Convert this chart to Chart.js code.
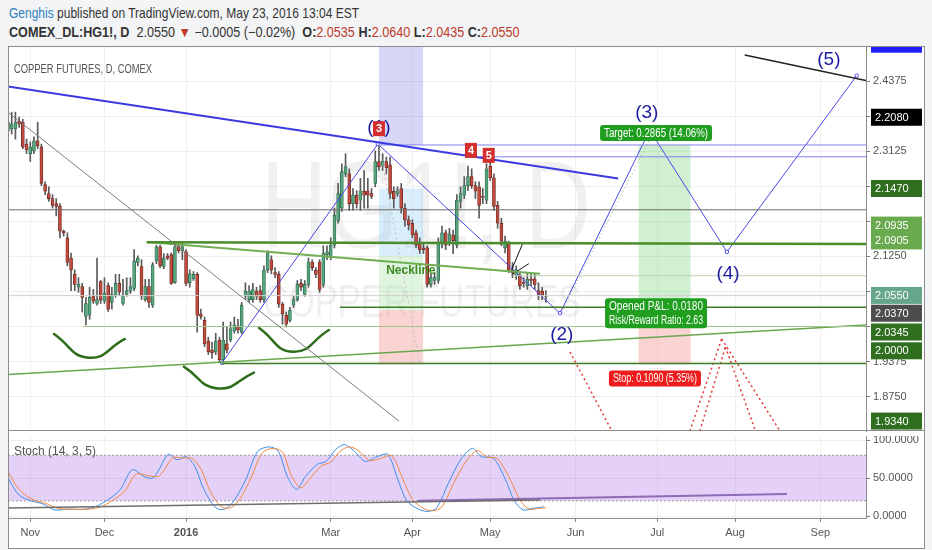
<!DOCTYPE html>
<html><head><meta charset="utf-8">
<script src="https://cdn.jsdelivr.net/npm/chart.js@4.4.0/dist/chart.umd.min.js"></script>
<style>
html,body{margin:0;padding:0;background:#f3f4f5;width:932px;height:550px;overflow:hidden;}
.hd{position:absolute;left:9px;white-space:nowrap;color:#333;font-family:"Liberation Sans",Arial,sans-serif;transform-origin:0 0;}
#h1{top:4px;font-size:15px;transform:scaleX(0.80);}
#h2{top:24px;font-size:14px;transform:scaleX(0.90);}
.r{color:#c0392b}
#bg{position:absolute;left:8px;top:46px;width:917px;height:503px;background:#fff}
#frame{position:absolute;left:8px;top:46px;width:915px;height:501px;border:1px solid #8c8c8c;pointer-events:none}
canvas{position:absolute;left:0}
#c1{top:0}
#c2{top:436px}
</style></head>
<body>
<div class="hd" id="h1"><span style="color:#2f7fc1">Genghis</span> published on TradingView.com, May 23, 2016 13:04 EST</div>
<div class="hd" id="h2"><b>COMEX_DL:HG1!, D</b>&nbsp; 2.0550 <span class="r">▼</span> −0.0005 (−0.02%) &nbsp;<b>O:</b><span class="r">2.0535</span> <b>H:</b><span class="r">2.0640</span> <b>L:</b><span class="r">2.0435</span> <b>C:</b><span class="r">2.0550</span></div>
<div id="bg"></div>
<canvas id="c1" width="932" height="436"></canvas>
<canvas id="c2" width="932" height="114"></canvas>
<div id="frame"></div>
<script>
// ---------------- DATA ----------------
const open = [
2.348,2.352,2.352,2.366,2.364,2.325,2.308,2.313,2.331,2.320,2.253,2.237,2.228,2.219,2.214,2.170,2.158,2.122,2.093,2.070,2.071,2.018,2.020,2.054,2.041,2.080,2.045,2.073,2.043,2.055,
2.077,2.041,2.057,2.063,2.068,2.114,2.107,2.048,2.071,2.038,2.117,2.142,2.107,2.126,2.128,2.078,2.144,2.135,2.133,2.078,2.085,2.093,2.022,2.011,1.974,1.958,1.955,1.976,1.941,
1.969,1.976,1.992,2.001,1.990,2.054,2.048,2.048,2.063,2.064,2.048,2.101,2.119,2.096,2.093,2.040,2.020,2.011,2.038,2.048,2.077,2.057,2.075,2.115,2.100,2.115,2.075,2.128,2.124,2.145,
2.189,2.211,2.272,2.272,2.219,2.234,2.225,2.241,2.242,2.237,2.255,2.294,2.286,2.294,2.288,2.241,2.237,2.246,2.211,2.190,2.184,2.167,2.149,2.140,2.140,2.075,2.082,2.082,
2.149,2.167,2.149,2.163,2.145,2.223,2.234,2.251,2.267,2.251,2.249,2.232,2.225,2.286,2.265,2.216,2.184,2.140,2.149,2.101,2.091,2.091,2.078,2.073,2.085,2.085,2.064,2.063,2.0535];
const high = [
2.382,2.382,2.382,2.373,2.369,2.334,2.329,2.338,2.364,2.325,2.258,2.249,2.235,2.228,2.219,2.172,2.167,2.131,2.101,2.087,2.077,2.052,2.070,2.066,2.122,2.082,2.087,2.078,2.070,2.093,
2.093,2.084,2.087,2.087,2.137,2.126,2.119,2.084,2.084,2.114,2.145,2.145,2.130,2.130,2.131,2.149,2.151,2.149,2.137,2.101,2.098,2.096,2.031,2.017,1.981,1.972,1.988,1.981,2.008,
1.999,2.008,2.017,2.013,2.043,2.078,2.073,2.077,2.070,2.073,2.108,2.135,2.126,2.105,2.098,2.043,2.026,2.034,2.055,2.082,2.084,2.082,2.122,2.119,2.105,2.119,2.144,2.144,2.158,2.211,
2.255,2.290,2.308,2.281,2.246,2.242,2.264,2.278,2.264,2.246,2.313,2.324,2.308,2.302,2.302,2.249,2.249,2.255,2.219,2.197,2.190,2.172,2.158,2.149,2.144,2.094,2.096,2.158,
2.179,2.172,2.175,2.172,2.235,2.249,2.267,2.286,2.281,2.258,2.258,2.246,2.290,2.299,2.272,2.223,2.193,2.161,2.152,2.114,2.108,2.096,2.087,2.096,2.094,2.094,2.078,2.070,2.064];
const low = [
2.334,2.343,2.334,2.355,2.317,2.308,2.294,2.308,2.317,2.251,2.235,2.223,2.211,2.197,2.158,2.161,2.108,2.064,2.064,2.061,2.026,2.003,2.013,2.041,2.038,2.041,2.041,2.027,2.031,2.052,
2.055,2.038,2.054,2.059,2.064,2.108,2.048,2.045,2.034,2.034,2.112,2.105,2.103,2.119,2.075,2.077,2.131,2.119,2.073,2.070,2.082,1.990,2.013,1.964,1.950,1.943,1.950,1.936,1.936,
1.953,1.973,1.988,1.988,1.987,2.048,2.043,2.043,2.048,2.043,2.043,2.096,2.094,2.087,2.034,2.004,1.999,2.008,2.034,2.045,2.064,2.054,2.070,2.100,2.087,2.061,2.070,2.119,2.119,2.140,
2.184,2.205,2.267,2.207,2.207,2.211,2.207,2.211,2.211,2.228,2.249,2.278,2.278,2.272,2.228,2.211,2.232,2.202,2.179,2.172,2.158,2.140,2.130,2.130,2.070,2.070,2.075,2.077,
2.140,2.137,2.144,2.130,2.140,2.211,2.228,2.242,2.246,2.228,2.193,2.219,2.219,2.260,2.207,2.175,2.144,2.131,2.096,2.087,2.084,2.066,2.070,2.066,2.073,2.066,2.048,2.048,2.0435];
const close = [
2.364,2.361,2.364,2.361,2.320,2.315,2.320,2.331,2.322,2.255,2.241,2.228,2.216,2.214,2.170,2.167,2.114,2.101,2.075,2.075,2.052,2.041,2.052,2.045,2.048,2.047,2.059,2.031,2.057,2.077,
2.061,2.055,2.064,2.071,2.117,2.122,2.054,2.071,2.043,2.110,2.142,2.108,2.122,2.122,2.077,2.142,2.135,2.142,2.077,2.094,2.093,2.020,2.018,1.969,1.955,1.953,1.974,1.941,1.976,
1.958,1.996,2.003,1.994,2.038,2.063,2.063,2.066,2.054,2.048,2.100,2.131,2.101,2.093,2.040,2.022,2.004,2.029,2.048,2.075,2.070,2.075,2.115,2.105,2.093,2.066,2.130,2.133,2.145,2.198,
2.237,2.276,2.285,2.219,2.234,2.219,2.242,2.234,2.234,2.232,2.294,2.285,2.295,2.283,2.237,2.228,2.242,2.211,2.190,2.181,2.163,2.145,2.137,2.137,2.075,2.087,2.087,2.149,
2.167,2.145,2.165,2.153,2.225,2.237,2.251,2.267,2.251,2.241,2.216,2.230,2.281,2.265,2.214,2.184,2.152,2.152,2.101,2.096,2.101,2.073,2.077,2.084,2.082,2.075,2.057,2.0555,2.055];

// month ticks (bar index) and labels
const monthIdx = [6, 26, 48, 87, 109, 130, 153, 175, 196, 219];
const monthLabels = ['Nov','Dec','2016','Mar','Apr','May','Jun','Jul','Aug','Sep'];
const xMin = 0, xMax = 231.3;

// price axis
const priceMin = 1.8138, priceMax = 2.4981;
const priceTicks = [1.875, 1.9375, 2.0, 2.0625, 2.125, 2.1875, 2.25, 2.3125, 2.375, 2.4375];
const priceTickShown = [1.875, 1.9375, 2.125, 2.3125, 2.4375];

// stochastic (14,3,5)
const stochKx = [0,2.9,6.2,9.4,12.6,15.8,20.6,23.9,27.1,30.3,33.5,36.7,39.1,40.7,43.2,45.6,48.0,50.4,52.8,56.0,58.4,60.9,64.1,67.3,70.5,72.9,75.3,77.8,80.2,83.4,85.8,88.2,90.6,93.0,96.3,99.5,102.4,105.1,107.5,110.7,113.2,115.6,118.8,122.0,125.2,127.6,130.9,134.1,136.5,138.9,141.3,144.5];
const stochK  = [50,28,20,16,8,9,9,13,22,35,61,52,50,61,81,74,78,65,35,11,9,20,48,85,91,85,52,35,52,68,72,87,94,87,72,78,81,48,20,9,6,11,44,74,89,78,76,48,20,8,10,12];
const stochDx = [0,3,6.5,10,13.5,17,21.5,25,28,31.5,34.5,38,40.5,42,44.5,47,49.5,52,54.5,57.5,60,62.5,65.5,68.5,71.5,74,76.5,79,81.5,84.5,87,89.5,92,94.5,97.5,100.5,103.5,106.5,109,112,114.5,117,120,123.5,126.5,129,132,135.5,138,140.5,143,145];
const stochD  = [58,35,22,17,10,9,9,12,20,33,55,53,52,60,77,76,76,62,33,12,11,22,50,83,89,84,52,37,50,66,71,85,91,86,73,76,79,48,22,10,7,12,42,72,86,78,75,47,21,9,10,11];
const stochTicks = [0, 50, 100];

// drawings (bar index, price)
const trendLines = [
  {pts:[[0,2.3817],[105.4,1.8315]], color:'#7a7a7a', w:1},
  {pts:[[0,2.4276],[164.5,2.2636]], color:'#3a3ae0', w:2},
  {pts:[[100,2.3235],[231.3,2.3235]], color:'#8080f0', w:1},
  {pts:[[127.2,2.3024],[231.3,2.3024]], color:'#8080f0', w:1},
  {pts:[[198.6,2.4840],[231.3,2.4382]], color:'#222222', w:1.5},
  {pts:[[0,2.2080],[231.3,2.2080]], color:'#6b6b6b', w:1},
  {pts:[[37.4,2.1500],[231.3,2.1470]], color:'#4a8c2a', w:2.5},
  {pts:[[37.4,2.1507],[143.4,2.0942]], color:'#6fae52', w:2},
  {pts:[[136,2.0905],[231.3,2.0905]], color:'#bcd3b0', w:1},
  {pts:[[0,2.0550],[231.3,2.0550]], color:'#cfcfcf', w:1},
  {pts:[[89.5,2.0345],[231.3,2.0345]], color:'#3c7a25', w:1.5},
  {pts:[[20.2,2.0000],[231.3,2.0000]], color:'#a3c690', w:1},
  {pts:[[0,1.9144],[231.3,2.0025]], color:'#6aa84f', w:1.5},
  {pts:[[57.7,1.9340],[231.3,1.9340]], color:'#3c7a25', w:1.5},
  {pts:[[135.8,2.1013],[138.8,2.1489]], color:'#111111', w:1},
  {pts:[[135.8,2.0925],[140.4,2.1119]], color:'#111111', w:1},
  {pts:[[100,2.3253],[111,1.9337]], color:'#bdbdbd', w:1, dash:[2,3]},
  {pts:[[149.6,2.0308],[174,2.3465]], color:'#8fa08f', w:1, dash:[1,3]},
  {pts:[[151.5,1.9549],[162.8,1.8138]], color:'#e53935', w:1.5, dash:[2,3]},
  {pts:[[183.8,1.8138],[192.4,1.9778]], color:'#e53935', w:1.5, dash:[2,3]},
  {pts:[[192.4,1.9778],[208.1,1.8138]], color:'#e53935', w:1.5, dash:[2,3]},
  {pts:[[186.5,1.8138],[193.4,1.9637]], color:'#e53935', w:1.5, dash:[2,3]},
  {pts:[[193.4,1.9637],[201.5,1.8138]], color:'#e53935', w:1.5, dash:[2,3]}
];
const waveX = [57.7, 99.7, 148.8, 173.0, 193.8, 228.8];
const waveY = [1.9355, 2.3253, 2.0237, 2.3500, 2.1330, 2.4470];
const arcs = [
  [[12.4,1.9867],[21.8,1.9443],[31.5,1.9778]],
  [[47.4,1.9285],[56.6,1.8897],[66.3,1.9179]],
  [[67.7,1.9972],[76.8,1.9549],[86.5,1.9937]]
];
const zones = [
  {x0:100, x1:111.9, y0:2.4981, y1:2.3235, c:'rgba(120,120,230,0.30)'},
  {x0:100, x1:111.9, y0:2.2459, y1:2.1260, c:'rgba(120,190,240,0.28)'},
  {x0:100, x1:111.9, y0:2.1260, y1:2.0290, c:'rgba(140,220,140,0.28)'},
  {x0:100, x1:111.9, y0:2.0290, y1:1.9337, c:'rgba(240,130,130,0.35)'},
  {x0:170, x1:184, y0:2.3235, y1:2.0308, c:'rgba(90,200,90,0.28)'},
  {x0:170, x1:184, y0:2.0308, y1:1.9337, c:'rgba(245,110,110,0.30)'}
];
const waveLabels = [
  {t:'(1)', x:100, y:2.3535}, {t:'(2)', x:149.3, y:1.9849}, {t:'(3)', x:172.2, y:2.3817},
  {t:'(4)', x:194.1, y:2.0942}, {t:'(5)', x:221.3, y:2.4752}
];
const redMarks = [{t:'3', x:100, y:2.3517}, {t:'4', x:124.8, y:2.3129}, {t:'5', x:129.6, y:2.3041}];
const infoBoxes = [
  {lines:['Target: 0.2865 (14.06%)'], x:174.7, y:2.3447, w:112, bg:'#1f9e1f'},
  {lines:['Opened P&L: 0.0180','Risk/Reward Ratio: 2.63'], x:174.7, y:2.0237, w:102, bg:'#1f9e1f'},
  {lines:['Stop: 0.1090 (5.35%)'], x:174.4, y:1.9073, w:92, bg:'#ee1c1c'}
];
const neckline = {t:'Neckline', x:108.6, y:2.0995};
const axisBoxes = [
  {t:'', at:2.5031, bg:'#1f1fff'},
  {t:'2.2080', at:2.3729, bg:'#000000'},
  {t:'2.1470', at:2.2459, bg:'#2f6f1f'},
  {t:'2.0935', at:2.1807, bg:'#6aaa4e'},
  {t:'2.0905', at:2.1525, bg:'#6aaa4e'},
  {t:'2.0550', at:2.0554, bg:'#66a68a'},
  {t:'2.0370', at:2.0237, bg:'#4d4d4d'},
  {t:'2.0345', at:1.9902, bg:'#2f6f1f'},
  {t:'2.0000', at:1.9567, bg:'#2f6f1f'},
  {t:'1.9340', at:1.8315, bg:'#2f6f1f'}
];
const paneTitle = 'COPPER FUTURES, D, COMEX';
const watermark = ['HG1!, D', 'COPPER FUTURES'];
const stochTitle = 'Stoch (14, 3, 5)';

// ---------------- CHARTS ----------------
const FONT = '"Liberation Sans",Arial,sans-serif';
Chart.defaults.font.family = FONT;
Chart.defaults.font.size = 11;
Chart.defaults.color = '#555';

const upBody = '#55a57e', dnBody = '#bf4a3e', upEdge = '#2c6447', dnEdge = '#6b241c';
const isUp = open.map((o,i)=> close[i] >= o);

function monthTicks(s){ s.ticks = monthIdx.map(v=>({value:v})); }
function noPad(s){ s.paddingTop = 0; s.paddingBottom = 0; s.paddingLeft = 0; s.paddingRight = 0; }

const datasets = [];
trendLines.forEach(l => datasets.push({
  type:'line', data:l.pts.map(p=>({x:p[0], y:p[1]})), borderColor:l.color, borderWidth:l.w,
  borderDash:l.dash || [], pointRadius:0, fill:false, order:0
}));
arcs.forEach(a => datasets.push({
  type:'line', data:a.map(p=>({x:p[0], y:p[1]})), borderColor:'#2e6e1a', borderWidth:2.5,
  tension:0.5, pointRadius:0, fill:false, order:0, borderCapStyle:'round'
}));
datasets.push({
  type:'line', data:waveX.map((x,i)=>({x, y:waveY[i]})), borderColor:'#4848e8', borderWidth:1,
  pointRadius:1.8, pointBackgroundColor:'#fff', pointBorderColor:'#4848e8', pointBorderWidth:1, fill:false, order:0
});
datasets.push({
  type:'bar', data:open.map((o,i)=>({x:i, y:[o, close[i]]})),
  backgroundColor:isUp.map(u=>u?upBody:dnBody), borderColor:isUp.map(u=>u?upEdge:dnEdge),
  borderWidth:0.7, borderSkipped:false, barThickness:3, grouped:false, minBarLength:1, order:1
});
datasets.push({
  type:'bar', data:open.map((o,i)=>({x:i, y:[low[i], high[i]]})),
  backgroundColor:'#5a5a5a', borderWidth:0, barThickness:1, grouped:false, order:2
});

function roundBox(ctx, x, y, w, h, r){
  ctx.beginPath();
  if (ctx.roundRect) ctx.roundRect(x, y, w, h, r); else ctx.rect(x, y, w, h);
  ctx.fill();
}

const mainDecor = {
  id:'mainDecor',
  beforeDatasetsDraw(chart){
    const {ctx, chartArea:a} = chart; const X = chart.scales.x, Y = chart.scales.y;
    ctx.save();
    ctx.beginPath(); ctx.rect(a.left, a.top, a.width, a.height); ctx.clip();
    ctx.fillStyle = 'rgba(0,0,0,0.06)'; ctx.textAlign = 'center'; ctx.textBaseline = 'alphabetic';
    ctx.font = '124px ' + FONT; ctx.fillText(watermark[0], a.left + 418, 248, 330);
    ctx.font = '46px ' + FONT; ctx.fillText(watermark[1], a.left + 414, 317, 318);
    zones.forEach(z => {
      const x0 = X.getPixelForValue(z.x0), x1 = X.getPixelForValue(z.x1);
      const y0 = Y.getPixelForValue(z.y0), y1 = Y.getPixelForValue(z.y1);
      ctx.fillStyle = z.c; ctx.fillRect(x0, y0, x1 - x0, y1 - y0);
    });
    ctx.fillStyle = '#555'; ctx.textAlign = 'left'; ctx.font = '12px ' + FONT;
    ctx.fillText(paneTitle, a.left + 6, a.top + 26, 138);
    ctx.restore();
  },
  afterDatasetsDraw(chart){
    const {ctx, chartArea:a} = chart; const X = chart.scales.x, Y = chart.scales.y;
    ctx.save();
    ctx.beginPath(); ctx.rect(a.left, a.top, a.width, a.height); ctx.clip();
    ctx.textAlign = 'center'; ctx.textBaseline = 'middle';
    ctx.font = '19px ' + FONT; ctx.fillStyle = '#1c1ca0';
    waveLabels.forEach(l => ctx.fillText(l.t, X.getPixelForValue(l.x), Y.getPixelForValue(l.y)));
    redMarks.forEach(m => {
      const cx = X.getPixelForValue(m.x), cy = Y.getPixelForValue(m.y);
      ctx.fillStyle = '#d32f2f'; ctx.fillRect(cx - 6, cy - 8, 12, 15);
      ctx.fillStyle = '#fff'; ctx.font = 'bold 11px ' + FONT; ctx.fillText(m.t, cx, cy);
    });
    ctx.font = 'bold 12px ' + FONT; ctx.fillStyle = '#3d8b20';
    ctx.fillText(neckline.t, X.getPixelForValue(neckline.x), Y.getPixelForValue(neckline.y));
    ctx.font = '12px ' + FONT;
    infoBoxes.forEach(b => {
      const cx = X.getPixelForValue(b.x), cy = Y.getPixelForValue(b.y);
      const h = 14 * b.lines.length + 2;
      ctx.fillStyle = b.bg; roundBox(ctx, cx - b.w/2, cy - h/2, b.w, h, 3);
      ctx.fillStyle = '#fff';
      b.lines.forEach((t, i) => ctx.fillText(t, cx, cy - h/2 + 8.5 + i*14, b.w - 8));
    });
    ctx.restore();
  },
  afterDraw(chart){
    const {ctx, chartArea:a} = chart; const Y = chart.scales.y;
    ctx.save();
    ctx.beginPath(); ctx.rect(a.right + 1, a.top, 70, a.height); ctx.clip();
    ctx.font = '11px ' + FONT; ctx.textAlign = 'left'; ctx.textBaseline = 'middle';
    axisBoxes.forEach(b => {
      const cy = Y.getPixelForValue(b.at);
      ctx.fillStyle = b.bg; ctx.fillRect(a.right + 5, cy - 8.5, 51, 17);
      ctx.fillStyle = '#fff'; ctx.fillText(b.t, a.right + 9, cy + 0.5);
    });
    ctx.restore();
    ctx.save(); ctx.strokeStyle = '#8c8c8c'; ctx.lineWidth = 1;
    ctx.beginPath(); ctx.moveTo(8, a.bottom - 0.5); ctx.lineTo(924, a.bottom - 0.5); ctx.stroke();
    ctx.restore();
  }
};

new Chart(document.getElementById('c1'), {
  type:'bar',
  data:{datasets},
  options:{
    responsive:false, animation:false, events:[],
    layout:{padding:{left:8, right:8, top:47, bottom:0}},
    plugins:{legend:{display:false}, tooltip:{enabled:false}},
    scales:{
      x:{type:'linear', min:xMin, max:xMax, offset:false, afterBuildTicks:monthTicks,
         ticks:{display:false}, grid:{color:'#f1f1f1', drawTicks:false, offset:false}, border:{display:false},
         afterFit(s){ s.height = 0; noPad(s); }},
      y:{type:'linear', position:'right', min:priceMin, max:priceMax,
         afterBuildTicks(s){ s.ticks = priceTicks.map(v=>({value:v})); },
         ticks:{padding:3, color:'#555', font:{size:11},
                callback:v => priceTickShown.includes(v) ? v.toFixed(4) : ''},
         grid:{color:'#eeeeee', tickLength:4, tickColor:'#777'},
         border:{display:true, color:'#8c8c8c'},
         afterFit(s){ s.width = 58; noPad(s); }}
    }
  },
  plugins:[mainDecor]
});

const stochDecor = {
  id:'stochDecor',
  beforeDatasetsDraw(chart){
    const {ctx, chartArea:a} = chart; const Y = chart.scales.y;
    const y80 = Y.getPixelForValue(80), y20 = Y.getPixelForValue(20);
    ctx.save();
    ctx.fillStyle = 'rgba(160,90,230,0.28)'; ctx.fillRect(a.left, y80, a.width, y20 - y80);
    ctx.strokeStyle = '#9a9a9a'; ctx.setLineDash([2,2]); ctx.lineWidth = 1;
    [y80, y20].forEach(y => { ctx.beginPath(); ctx.moveTo(a.left, y); ctx.lineTo(a.right, y); ctx.stroke(); });
    ctx.setLineDash([]);
    ctx.fillStyle = '#555'; ctx.font = '12px ' + FONT; ctx.textAlign = 'left'; ctx.textBaseline = 'middle';
    ctx.fillText(stochTitle, a.left + 6, a.top + 16, 82);
    ctx.restore();
  }
};

new Chart(document.getElementById('c2'), {
  type:'line',
  data:{datasets:[
    {data:[{x:0,y:10.5},{x:143.4,y:21}], borderColor:'#6d6d6d', borderWidth:1.5, pointRadius:0},
    {data:[{x:110.5,y:20},{x:210,y:29}], borderColor:'#8e6bb5', borderWidth:2, pointRadius:0},
    {data:stochDx.map((x,i)=>({x, y:stochD[i]})), borderColor:'#f0883e', borderWidth:1, pointRadius:0, tension:0.3},
    {data:stochKx.map((x,i)=>({x, y:stochK[i]})), borderColor:'#3d8ee6', borderWidth:1, pointRadius:0, tension:0.3}
  ]},
  options:{
    responsive:false, animation:false, events:[],
    layout:{padding:{left:8, right:8, top:0, bottom:1}},
    plugins:{legend:{display:false}, tooltip:{enabled:false}},
    scales:{
      x:{type:'linear', min:xMin, max:xMax, afterBuildTicks:monthTicks,
         ticks:{autoSkip:false, maxRotation:0, padding:4, color:'#555',
                callback:(v, i) => monthLabels[i],
                font:(c) => (c.tick && c.index === 2) ? {size:11, weight:'bold'} : {size:11}},
         grid:{color:'#f1f1f1', tickLength:4, tickColor:'#888'},
         border:{display:true, color:'#8c8c8c'},
         afterFit(s){ s.height = 31; noPad(s); }},
      y:{type:'linear', position:'right', min:-2.6, max:105.3,
         afterBuildTicks(s){ s.ticks = stochTicks.map(v=>({value:v})); },
         ticks:{padding:3, color:'#555', font:{size:11}, callback:v => v.toFixed(4)},
         grid:{color:'#eeeeee', tickLength:4, tickColor:'#777'},
         border:{display:true, color:'#8c8c8c'},
         afterFit(s){ s.width = 58; noPad(s); }}
    }
  },
  plugins:[stochDecor]
});
</script>
</body></html>
